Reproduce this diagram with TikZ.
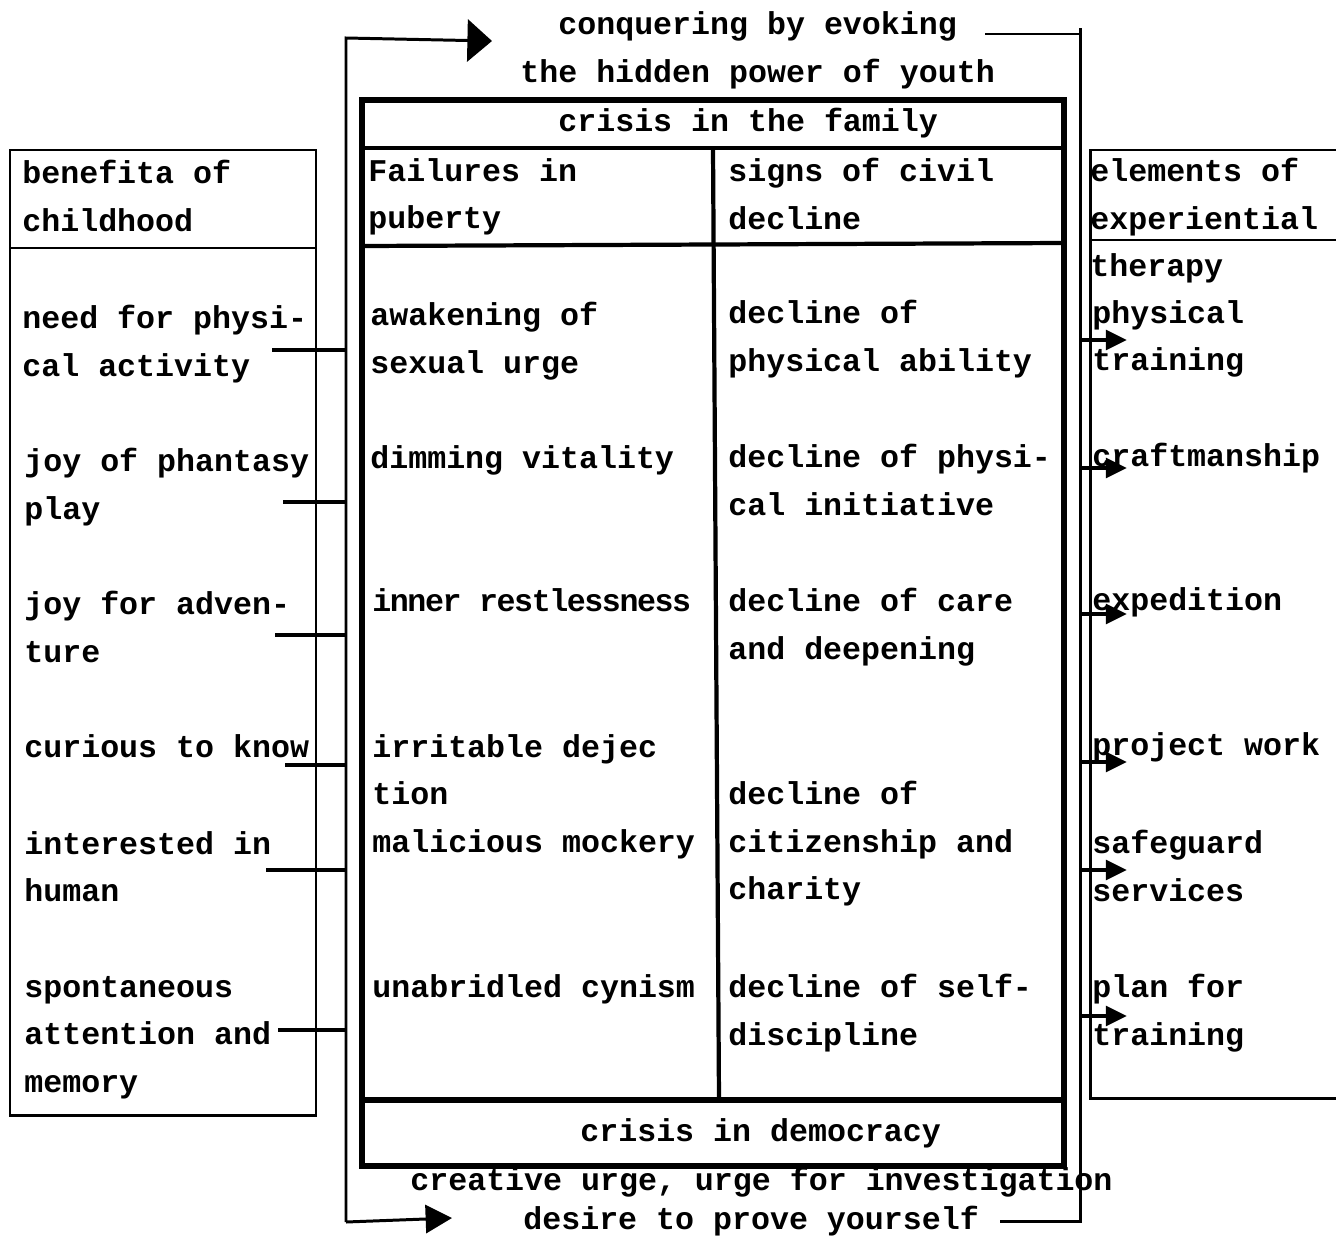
\documentclass[tikz,border=0pt]{standalone}
\usepackage{fontspec}
\setmonofont{Liberation Mono}
\usetikzlibrary{arrows.meta}

\tikzset{
  txt/.style={anchor=north west, inner sep=0pt, align=left,
    font=\ttfamily\bfseries\fontsize{18}{27}\selectfont,
    execute at begin node=\strut},
  loopline/.style={line width=1.7pt},
  frame/.style={line width=3.4pt},
  rule/.style={line width=2.4pt},
  boxline/.style={line width=1.7pt},
  conn/.style={line width=2pt},
  rarrow/.style={line width=2.6pt, -{Triangle[length=12pt,width=11pt]}}
}

\begin{document}
\begin{tikzpicture}[x=0.02cm,y=-0.02cm]
\useasboundingbox (0,0) rectangle (1336,1238);

% texts above and below the frame
\node [txt] (top1) at (558,1) {conquering by evoking};
\node [txt] (top2) at (520,49) {the hidden power of youth};
\node [txt] (bot1) at (410,1157) {creative urge, urge for investigation};
\node [txt] (bot2) at (523,1196) {desire to prove yourself};

% central frame
\draw [frame] (362,100) rectangle (1064,1166);
\draw [rule] (362,148) -- (1064,148);
\draw [rule] (362,246) -- (1064,243);
\draw [rule] (713,148) -- (719,1100);
\draw [frame] (362,1100) -- (1064,1100);

\node [txt] (fam) at (558,98) {crisis in the family};
\node [txt] (fail) at (368,158) {Failures in\\puberty};
\node [txt] (signs) at (728,158) {signs of civil\\decline};

\node [txt] (awak) at (370,302) {awakening of\\sexual urge};
\node [txt] (dimm) at (370,435) {dimming vitality};
\node [txt, font=\ttfamily\bfseries\fontsize{18}{27}\selectfont\addfontfeature{LetterSpace=-4.5}] (restl) at (372,578) {inner restlessness};
\node [txt] (irrit) at (372,734) {irritable dejec\\tion};
\node [txt] (malic) at (372,819) {malicious mockery};
\node [txt] (cyn) at (372,964) {unabridled cynism};

\node [txt] (dphys) at (728,300) {decline of\\physical ability};
\node [txt] (dinit) at (728,444) {decline of physi-\\cal initiative};
\node [txt] (dcare) at (728,588) {decline of care\\and deepening};
\node [txt] (dcit) at (728,781) {decline of\\citizenship and\\charity};
\node [txt] (dself) at (728,974) {decline of self-\\discipline};

\node [txt] (demo) at (580,1108) {crisis in democracy};

% left box
\draw [boxline] (10,150) rectangle (316,1115);
\draw [boxline] (10,248) -- (316,248);
\node [txt] (ben) at (22,160) {benefita of\\childhood};
\node [txt] (need) at (22,305) {need for physi-\\cal activity};
\node [txt] (phant) at (24,448) {joy of phantasy\\play};
\node [txt] (adv) at (24,591) {joy for adven-\\ture};
\node [txt] (cur) at (24,724) {curious to know};
\node [txt] (inter) at (24,831) {interested in\\human};
\node [txt] (spont) at (24,976) {spontaneous\\attention and\\memory};

% right box
\draw [boxline] (1336,150) -- (1090,150) -- (1090,1098) -- (1336,1098);
\draw [boxline] (1090,240) -- (1336,240);
\node [txt] (elem) at (1090,158) {elements of\\experiential\\therapy};
\node [txt] (phys) at (1092,300) {physical\\training};
\node [txt] (craft) at (1092,433) {craftmanship};
\node [txt] (exped) at (1092,577) {expedition};
\node [txt] (proj) at (1092,722) {project work};
\node [txt] (safe) at (1092,830) {safeguard\\services};
\node [txt] (plan) at (1092,974) {plan for\\training};

% the loop round the frame
\coordinate (lt) at (346,38);
\coordinate (lb) at (346,1222);
\coordinate (rt) at (1080,28);
\coordinate (rb) at (1080,1221);
\draw [loopline,-{Triangle[length=14pt,width=24pt]}] (lb) -- (lt) -- (492,41);
\draw [loopline,-{Triangle[length=15pt,width=16pt]}] (lb) -- (452,1218);
\draw [loopline] (985,34) -- (rt |- 985,34);
\draw [loopline] (rt) -- (rb) -- (1000,1221);

% links into the loop and out of it
\foreach \x/\y in {272/350, 283/502, 275/635, 285/765, 266/870, 278/1030}
  \draw [conn] (\x,\y) -- (lt |- \x,\y);
\foreach \y in {340, 468, 614, 762, 870, 1016}
  \draw [rarrow] (rt |- 0,\y) -- ++(47,0);

\end{tikzpicture}
\end{document}
